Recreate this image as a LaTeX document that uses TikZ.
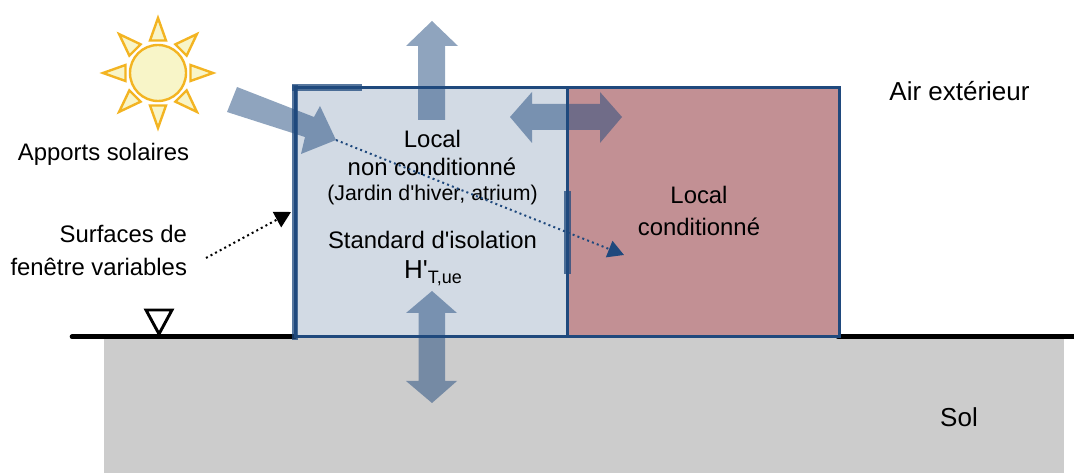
\documentclass[tikz,border=0pt]{standalone}
\usepackage{fontspec}
\setmainfont{Liberation Sans}[Ligatures=TeXOff]
\usetikzlibrary{arrows.meta}
\definecolor{navy}{HTML}{1F497D}
\definecolor{sunline}{HTML}{F3B422}
\definecolor{sunfill}{HTML}{F8F5C8}
\definecolor{coolroom}{HTML}{D2DAE4}
\definecolor{warmroom}{HTML}{C29094}
\definecolor{soil}{HTML}{CCCCCC}
\tikzset{
  x=0.75pt,y=-0.75pt,
  txt/.style={inner sep=0pt,outer sep=0pt,font=\fontsize{17.9}{20}\selectfont,text=black,anchor=base},
  small/.style={txt,font=\fontsize{16}{18}\selectfont},
  big/.style={txt,font=\fontsize{19.5}{22}\selectfont},
  room/.style={draw=navy,line width=2.25pt,inner sep=0pt,outer sep=0pt,anchor=north west},
  block/.style={fill=navy,fill opacity=0.5,draw=none},
  pane/.style={draw=navy,draw opacity=0.75,line width=5.2pt,line cap=butt},
  ground/.style={draw=black,line width=3.5pt,line cap=round},
  sunray/.style={draw=sunline,fill=sunfill,line width=1.8pt,line join=miter},
  dotblue/.style={draw=navy,line width=1.5pt,dash pattern=on 1.5pt off 2.4pt,-{Triangle[length=12pt,width=13pt,fill=navy]}},
  dotblack/.style={draw=black,line width=1.5pt,dash pattern=on 1.5pt off 2.4pt,-{Triangle[length=12pt,width=13pt,fill=black]}}
}
\begin{document}
\begin{tikzpicture}
\useasboundingbox (0,0) rectangle (1074,473);
% soil
\fill[soil] (104,337) rectangle (1064,473);
% ground line
\coordinate (g1) at (72,336.7); \coordinate (g2) at (295,336.7);
\coordinate (g3) at (838,336.7); \coordinate (g4) at (1074,336.7);
\draw[ground] (g1) -- (g2);
\draw[ground] (g3) -- (g4);
% rooms
\node[room,fill=coolroom,minimum width=204pt,minimum height=186.75pt] (cool) at (295,87.5) {};
\node[room,fill=warmroom,minimum width=204pt,minimum height=186.75pt] (warm) at (567,87.5) {};
\draw[draw=black,fill=white,line width=2.2pt] (146,310) -- (172,310) -- (159,334) -- cycle;
% windows
\draw[pane] (295,85) -- (295,340);
\draw[pane] (292,87.5) -- (362,87.5);
\draw[pane] (567.3,191) -- (567.3,274);
% sun
\foreach \a in {0,45,...,315}{
  \draw[sunray,rotate around={\a:(158,73)}] (150,40.5) -- (158,18) -- (166,40.5) -- cycle;
}
\draw[sunray] (158,73) circle[radius=28];
% texts
\node[txt] (apports) at (103.5,161) {Apports solaires};
\node[txt,anchor=base east] (surf1) at (187,242.5) {Surfaces de};
\node[txt,anchor=base east] (surf2) at (187,275.7) {fenêtre variables};
\node[txt] (l1) at (432.5,147.5) {Local};
\node[txt] (l2) at (432,176) {non conditionné};
\node[small] (l3) at (432.5,200.5) {(Jardin d'hiver, atrium)};
\node[txt] (l4) at (432.5,248.5) {Standard d'isolation};
\node[big] (l5) at (433,278.5) {H'\raisebox{-4pt}{\fontsize{13.5}{15}\selectfont T,ue}};
\node[txt] (r1) at (699,204) {Local};
\node[txt] (r2) at (699,236) {conditionné};
\node[big] (air) at (959.5,101) {Air extérieur};
\node[big] (sol) at (959,427) {Sol};
% block arrows
\fill[block] (237,87) -- (314,117) -- (320,106) -- (336,140) -- (301,154) -- (305,137) -- (227,112) -- cycle;
\fill[block] (432,21) -- (458,46) -- (445,46) -- (445,120) -- (418,120) -- (418,46) -- (406,46) -- cycle;
\fill[block] (510,117) -- (532,92) -- (532,104) -- (600,104) -- (600,92) -- (622,117) -- (600,143) -- (600,130) -- (532,130) -- (532,143) -- cycle;
\fill[block] (432,291) -- (457,313) -- (445,313) -- (445,381) -- (457,381) -- (432,403) -- (406,381) -- (418.5,381) -- (418.5,313) -- (406,313) -- cycle;
% dotted arrows
\coordinate (s1) at (336,140); \coordinate (s2) at (624,255);
\draw[dotblue] (s1) -- (s2);
\coordinate (w1) at (206,258); \coordinate (w2) at (291,212);
\draw[dotblack] (w1) -- (w2);
\end{tikzpicture}
\end{document}
